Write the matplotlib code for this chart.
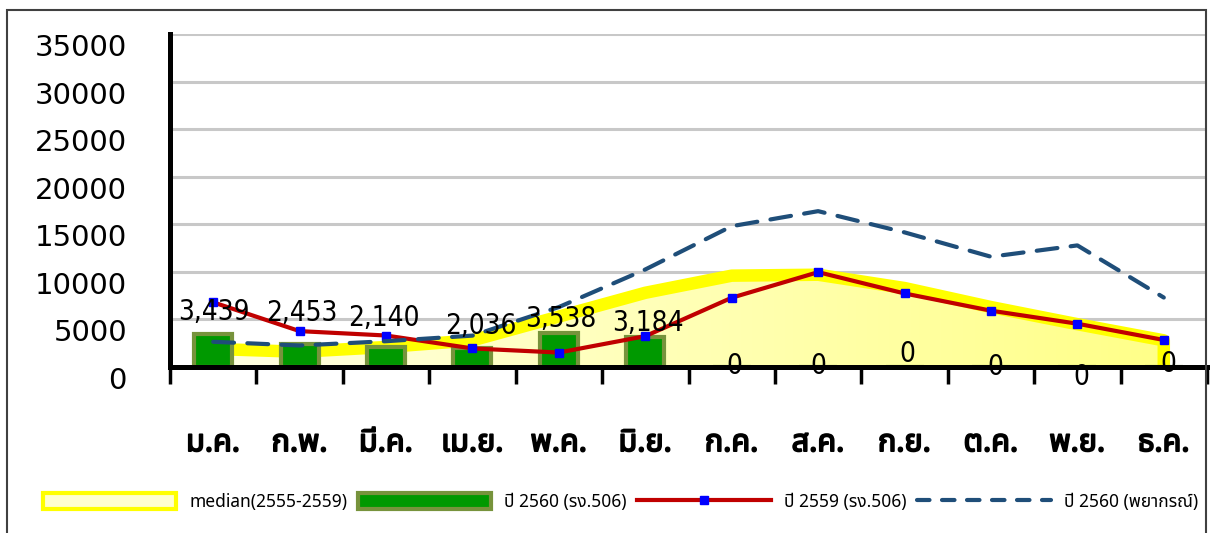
import numpy as np
import matplotlib
matplotlib.use('Agg')
import matplotlib.pyplot as plt
from matplotlib import font_manager, transforms, patheffects
from matplotlib.ft2font import FT2Font
from matplotlib.patches import Polygon, Patch, Rectangle
from matplotlib.lines import Line2D
from matplotlib.colors import LinearSegmentedColormap

months = ['ม.ค.', 'ก.พ.', 'มี.ค.', 'เม.ย.', 'พ.ค.', 'มิ.ย.',
          'ก.ค.', 'ส.ค.', 'ก.ย.', 'ต.ค.', 'พ.ย.', 'ธ.ค.']
median_2555_2559 = [1900, 1600, 2100, 2800, 5300, 7800, 9600, 9700, 8300, 6300, 4500, 2800]
inflow_2560 = [3439, 2453, 2140, 2036, 3538, 3184, 0, 0, 0, 0, 0, 0]
inflow_2559 = [6800, 3770, 3310, 1950, 1520, 3240, 7280, 9970, 7730, 5920, 4550, 2840]
forecast_2560 = [2650, 2260, 2710, 3300, 6300, 10250, 14800, 16380, 14150, 11590, 12780, 7300]
series_names = ['median(2555-2559)', 'ปี 2560 (รง.506)', 'ปี 2559 (รง.506)', 'ปี 2560 (พยากรณ์)']

# nudges (pixels) of the bar value labels, as placed in the original
label_dx = [1, 2, -2, 8, 2, 3, 3, 0, 3, 4, 4, 5]
label_dy = [22, 31, 29, 22, 14, 14, 1, 1, 13, 0, -10, 3]


def thai_family():
    prefer = ['Tahoma', 'Noto Sans Thai', 'Noto Sans Thai UI', 'Loma', 'Garuda',
              'Sarabun', 'Waree', 'Norasi', 'Kinnari']
    found = {}
    for f in font_manager.fontManager.ttflist:
        try:
            if 0x0E1B in FT2Font(f.fname).get_charmap():
                found.setdefault(f.name, f.fname)
        except Exception:
            continue
    for p in prefer:
        if p in found:
            return p
    return next(iter(found), 'DejaVu Sans')


THAI = thai_family()
plt.rcParams['font.family'] = [THAI, 'DejaVu Sans']

fig = plt.figure(figsize=(12.1, 5.33), dpi=100)
ax = fig.add_axes([170 / 1210, 1 - 367 / 533, 1037 / 1210, 333 / 533])

x = np.arange(len(months))

# median area: gradient fill clipped to the polygon, thick yellow outline
ox = np.r_[0, x, x[-1]]
oy = np.r_[0, median_2555_2559, 0]
area = Polygon(np.column_stack([ox, oy]), closed=True, facecolor='none',
               edgecolor='none', zorder=1.5)
ax.add_patch(area)
cmap = LinearSegmentedColormap.from_list('yel', ['#FFFFE2', '#FFFF88'])
grad = ax.imshow(np.linspace(0, 1, 256)[None, :], cmap=cmap, aspect='auto',
                 extent=[0, 11, 0, 35000], zorder=1.5)
grad.set_clip_path(area)
ax.plot(ox, oy, color='#FFFF00', lw=9, solid_joinstyle='round', zorder=1.6)

ax.bar(x, inflow_2560, width=0.44, color='#009900', edgecolor='#77933C',
       lw=3, zorder=2)
ax.plot(x, inflow_2559, color='#C00000', lw=3, marker='s', ms=6,
        mfc='#0000FF', mec='#0000FF', zorder=3)
ax.plot(x, forecast_2560, color='#1F4E79', lw=3, dashes=(5, 3.2),
        dash_capstyle='round', zorder=3)

for i, v in enumerate(inflow_2560):
    ax.annotate(f'{v:,}', (x[i], v), xytext=(label_dx[i], label_dy[i]),
                textcoords='offset pixels', ha='center', va='center',
                fontsize=20, family='DejaVu Sans', stretch='condensed', zorder=5)

ax.set_xlim(-0.5, 11.5)
ax.set_ylim(0, 35000)
ax.set_yticks(np.arange(0, 35001, 5000))
ax.set_yticklabels([str(t) for t in range(0, 35001, 5000)],
                   fontsize=21, family='DejaVu Sans')
ax.tick_params(axis='y', length=0, pad=31)
shift = transforms.ScaledTranslation(0, -11 / 100, fig.dpi_scale_trans)
for lab in ax.get_yticklabels():
    lab.set_transform(lab.get_transform() + shift)

ax.set_xticks(np.arange(-0.5, 12, 1))
ax.set_xticklabels([])
ax.set_xticks(x, minor=True)
ax.set_xticklabels(months, minor=True, fontsize=22, fontweight='bold')
for lab in ax.get_xticklabels(minor=True):
    lab.set_path_effects([patheffects.withStroke(linewidth=1.3, foreground='black')])
ax.tick_params(axis='x', which='major', length=12, width=2.5, direction='out')
ax.tick_params(axis='x', which='minor', length=0, pad=44)

ax.grid(axis='y', color='#C8C8C8', lw=2.2, zorder=0)
ax.set_axisbelow(True)
for s in ['top', 'right']:
    ax.spines[s].set_visible(False)
for s in ['left', 'bottom']:
    ax.spines[s].set_linewidth(3.6)
    ax.spines[s].set_zorder(4)

handles = [
    Patch(facecolor='#FFFFD0', edgecolor='#FFFF00', lw=3),
    Patch(facecolor='#009900', edgecolor='#77933C', lw=3),
    Line2D([], [], color='#C00000', lw=3, marker='s', ms=6,
           mfc='#0000FF', mec='#0000FF', markevery=[1]),
    Line2D([], [], color='#1F4E79', lw=3, dashes=(3, 3), dash_capstyle='round'),
]
fig.legend(handles, series_names, loc='center left', ncol=4,
           bbox_to_anchor=(34 / 1210, 1 - 502 / 533), frameon=False,
           fontsize=12.5, borderpad=0, handlelength=7.7, handleheight=1.05,
           handletextpad=0.75, columnspacing=0.6)

fig.add_artist(Rectangle((7 / 1210, -0.05), 1199 / 1210, 1.05 - 10 / 533,
                         transform=fig.transFigure, fill=False,
                         edgecolor='#404040', lw=1.5))

fig.savefig('out.png', dpi=100)
